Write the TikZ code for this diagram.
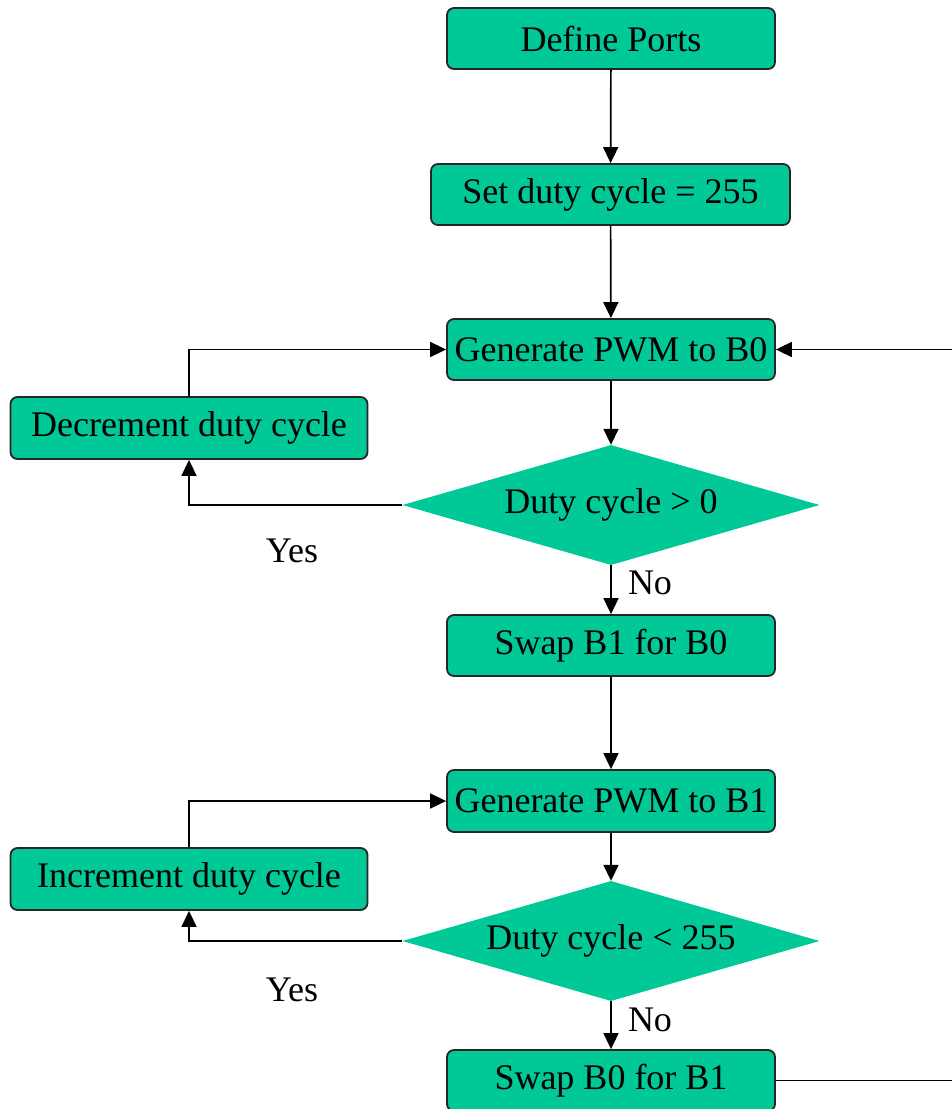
\documentclass[tikz,border=0pt]{standalone}
\usepackage{fontspec}
\setmainfont{Liberation Serif}
\usetikzlibrary{shapes.geometric,arrows.meta}
\definecolor{boxgreen}{RGB}{0,200,150}
\tikzset{
  procbox/.style={draw=black!85, line width=1.8pt, fill=boxgreen, rounded corners=7pt,
    inner sep=0pt, font=\fontsize{36}{40}\selectfont},
  decbox/.style={draw=none, fill=boxgreen, shape=diamond, inner sep=0pt, aspect=3.475,
    minimum width=417pt, minimum height=120pt, font=\fontsize{36}{40}\selectfont},
  arr/.style={draw=black, line width=1.7pt, -{Triangle[width=15pt,length=16pt]}},
  lab/.style={font=\fontsize{36}{40}\selectfont, inner sep=0pt}
}
\begin{document}
\begin{tikzpicture}[x=1pt,y=-1pt]
\useasboundingbox (0,0) rectangle (952,1109);
\node[procbox, minimum width=328pt, minimum height=61pt] (dp) at (611,38.5) {Define Ports};
\node[procbox, minimum width=359pt, minimum height=61pt] (sd) at (610.5,194.5) {Set duty cycle = 255};
\node[procbox, minimum width=328pt, minimum height=61pt] (g0) at (611,349.5) {Generate PWM to B0};
\node[procbox, minimum width=357pt, minimum height=62pt] (dec) at (189,428) {Decrement duty cycle};
\node[decbox] (d1) at (611,505) {Duty cycle > 0};
\node[lab] (y1) at (292,551) {Yes};
\node[lab] (n1) at (650,583) {No};
\node[procbox, minimum width=328pt, minimum height=61pt] (s1) at (611,645.5) {Swap B1 for B0};
\node[procbox, minimum width=328pt, minimum height=62pt] (g1) at (611,801) {Generate PWM to B1};
\node[procbox, minimum width=357pt, minimum height=62pt] (inc) at (189,879) {Increment duty cycle};
\node[decbox] (d2) at (611,941) {Duty cycle < 255};
\node[lab] (y2) at (292,990) {Yes};
\node[lab] (n2) at (650,1020) {No};
\node[procbox, minimum width=328pt, minimum height=61pt] (s0) at (611,1080.5) {Swap B0 for B1};
\coordinate (far0) at (1000,1080.5);
\draw[arr] (dp) -- (sd);
\draw[arr] (sd) -- (g0);
\draw[arr] (g0) -- (d1.north);
\draw[arr] (d1.west) -| (dec.south);
\draw[arr] (dec.north) |- (g0.west);
\draw[arr] (d1.south) -- (s1);
\draw[arr] (s1) -- (g1);
\draw[arr] (g1) -- (d2.north);
\draw[arr] (d2.west) -| (inc.south);
\draw[arr] (inc.north) |- (g1.west);
\draw[arr] (d2.south) -- (s0);
\draw[arr] (s0.east) -- (far0) |- (g0.east);
\end{tikzpicture}
\end{document}
